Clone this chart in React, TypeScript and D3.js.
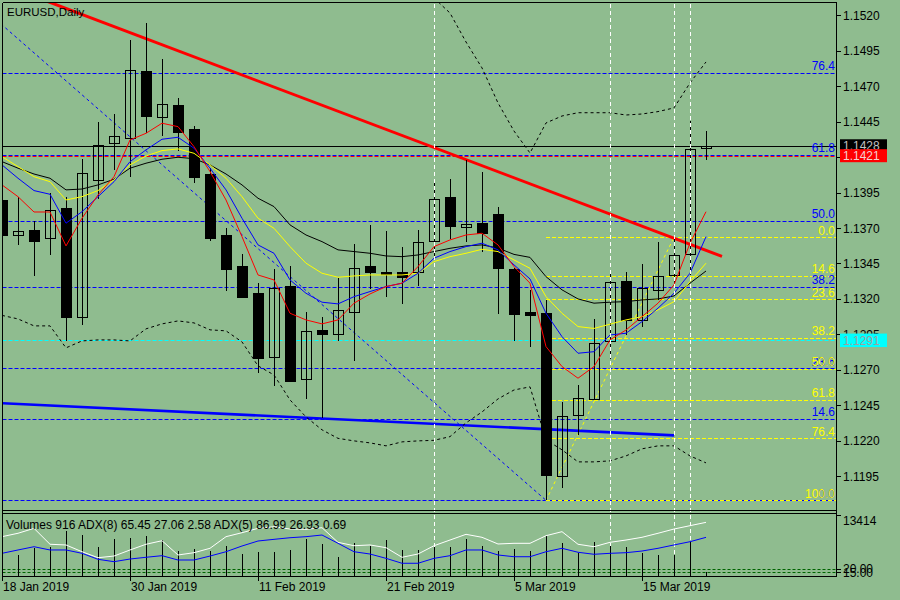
import React from "react";
import * as d3 from "d3";

// ---------- data ----------
const dates = [
  "2019-01-18", "2019-01-21", "2019-01-22", "2019-01-23", "2019-01-24", "2019-01-25", "2019-01-28", "2019-01-29",
  "2019-01-30", "2019-01-31", "2019-02-01", "2019-02-04", "2019-02-05", "2019-02-06", "2019-02-07", "2019-02-08",
  "2019-02-11", "2019-02-12", "2019-02-13", "2019-02-14", "2019-02-15", "2019-02-18", "2019-02-19", "2019-02-20",
  "2019-02-21", "2019-02-22", "2019-02-25", "2019-02-26", "2019-02-27", "2019-02-28", "2019-03-01", "2019-03-04",
  "2019-03-05", "2019-03-06", "2019-03-07", "2019-03-08", "2019-03-11", "2019-03-12", "2019-03-13", "2019-03-14",
  "2019-03-15", "2019-03-18", "2019-03-19", "2019-03-20", "2019-03-21",
];

const opens = [
  1.13898, 1.13649, 1.13687, 1.13628, 1.13842, 1.13071, 1.14037, 1.14298, 1.14333, 1.14807, 1.14481, 1.14568,
  1.14399, 1.14081, 1.13651, 1.13433, 1.13242, 1.12789, 1.13294, 1.12638, 1.12982, 1.12951, 1.13106, 1.13433,
  1.13388, 1.13390, 1.13388, 1.13607, 1.13917, 1.13706, 1.13734, 1.13799, 1.13412, 1.13108, 1.13104, 1.11950,
  1.12380, 1.12493, 1.12906, 1.13327, 1.13050, 1.13261, 1.13367, 1.13515, 1.14263,
];
const highs = [
  1.13926, 1.13917, 1.13752, 1.13945, 1.13921, 1.14185, 1.14446, 1.14504, 1.15026, 1.15148, 1.14892, 1.14617,
  1.14420, 1.14124, 1.13701, 1.13517, 1.13315, 1.13409, 1.13433, 1.13108, 1.13071, 1.13346, 1.13586, 1.13720,
  1.13679, 1.13567, 1.13687, 1.14039, 1.14046, 1.14180, 1.14095, 1.13847, 1.13419, 1.13264, 1.13193, 1.12476,
  1.12594, 1.13059, 1.13393, 1.13388, 1.13447, 1.13600, 1.13632, 1.14455, 1.14384,
];
const lows = [
  1.13630, 1.13579, 1.13364, 1.13510, 1.12906, 1.13017, 1.13903, 1.14110, 1.14062, 1.14370, 1.14351, 1.14246,
  1.14016, 1.13611, 1.13259, 1.13207, 1.12681, 1.12589, 1.12622, 1.12497, 1.12363, 1.12904, 1.12765, 1.13268,
  1.13216, 1.13165, 1.13292, 1.13475, 1.13623, 1.13600, 1.13534, 1.13096, 1.12904, 1.12864, 1.11783, 1.11866,
  1.12241, 1.12492, 1.12777, 1.12946, 1.13005, 1.13193, 1.13311, 1.13369, 1.14180,
];
const closes = [
  1.13653, 1.13677, 1.13611, 1.13825, 1.13075, 1.14086, 1.14284, 1.14349, 1.14812, 1.14492, 1.14573, 1.14380,
  1.14062, 1.13632, 1.13414, 1.13216, 1.12782, 1.13276, 1.12624, 1.12972, 1.12955, 1.13120, 1.13417, 1.13393,
  1.13376, 1.13357, 1.13600, 1.13903, 1.13717, 1.13727, 1.13668, 1.13417, 1.13096, 1.13089, 1.11961, 1.12375,
  1.12500, 1.12888, 1.13318, 1.13052, 1.13276, 1.13362, 1.13508, 1.14255, 1.14280,
];
const volumes = [
  4840, 4620, 6090, 6450, 9900, 9020, 6310, 8140, 8290, 8870, 7920, 5500, 5940, 5500, 6600, 4840,
  5350, 5350, 5720, 8140, 7040, 4250, 7190, 6670, 7920, 5720, 5720, 6450, 6450, 8140, 6600, 5500,
  5940, 5500, 8870, 7190, 5130, 7410, 6600, 6310, 5130, 4620, 4620, 7410, 916,
];

const maRed = [
  1.14004, 1.13921, 1.13813, 1.13813, 1.13574, 1.13769, 1.13933, 1.14062, 1.14321, 1.14368, 1.14439, 1.14415,
  1.14274, 1.14098, 1.13898, 1.13639, 1.13369, 1.13334, 1.13099, 1.13052, 1.13024, 1.13052, 1.13170, 1.13235,
  1.13287, 1.13311, 1.13428, 1.13569, 1.13616, 1.13651, 1.13663, 1.13581, 1.13428, 1.13311, 1.12864, 1.12723,
  1.12641, 1.12723, 1.12911, 1.12981, 1.13075, 1.13170, 1.13299, 1.13593, 1.13815,
];
const maBlue = [
  1.14145, 1.14051, 1.13964, 1.13938, 1.13734, 1.13815, 1.13921, 1.14027, 1.14168, 1.14251, 1.14326, 1.14340,
  1.14263, 1.14122, 1.13969, 1.13769, 1.13581, 1.13522, 1.13334, 1.13240, 1.13177, 1.13165, 1.13216, 1.13252,
  1.13287, 1.13311, 1.13381, 1.13487, 1.13534, 1.13569, 1.13593, 1.13546, 1.13440, 1.13341, 1.13099, 1.12934,
  1.12817, 1.12828, 1.12946, 1.12958, 1.13040, 1.13135, 1.13240, 1.13381, 1.13639,
];
const maYellow = [
  1.14203, 1.14133, 1.14062, 1.14027, 1.13898, 1.13921, 1.13964, 1.14039, 1.14145, 1.14208, 1.14246, 1.14258,
  1.14227, 1.14145, 1.14051, 1.13921, 1.13769, 1.13698, 1.13569, 1.13452, 1.13381, 1.13353, 1.13362, 1.13369,
  1.13369, 1.13369, 1.13381, 1.13463, 1.13498, 1.13522, 1.13550, 1.13534, 1.13475, 1.13416, 1.13216, 1.13099,
  1.13005, 1.12992, 1.13022, 1.13052, 1.13075, 1.13123, 1.13181, 1.13322, 1.13452,
];
const maBlack = [
  1.14168, 1.14122, 1.14081, 1.14051, 1.13969, 1.13975, 1.14004, 1.14044, 1.14122, 1.14157, 1.14185, 1.14199,
  1.14189, 1.14145, 1.14081, 1.14004, 1.13910, 1.13851, 1.13722, 1.13651, 1.13604, 1.13546, 1.13534, 1.13522,
  1.13503, 1.13498, 1.13510, 1.13534, 1.13557, 1.13574, 1.13581, 1.13559, 1.13514, 1.13493, 1.13357, 1.13264,
  1.13200, 1.13170, 1.13177, 1.13181, 1.13193, 1.13200, 1.13221, 1.13311, 1.13397,
];
const bandUpperStart = 26;
const bandUpper = [
  1.15449, 1.15322, 1.15216, 1.15012, 1.14829, 1.14582, 1.14384, 1.14229, 1.14441, 1.14490,
  1.14513, 1.14513, 1.14513, 1.14497, 1.14504, 1.14521, 1.14547, 1.14723, 1.14871,
];
const bandLower = [
  1.13084, 1.13059, 1.13010, 1.13010, 1.12855, 1.12904, 1.12911, 1.12911, 1.12904, 1.12989, 1.13024, 1.13045,
  1.13031, 1.12982, 1.12975, 1.12897, 1.12728, 1.12664, 1.12488, 1.12368, 1.12277, 1.12217, 1.12199, 1.12185,
  1.12164, 1.12192, 1.12199, 1.12203, 1.12229, 1.12326, 1.12403, 1.12495, 1.12558, 1.12580, 1.12206, 1.12136,
  1.12051, 1.12051, 1.12058, 1.12093, 1.12143, 1.12164, 1.12164, 1.12093, 1.12044,
];
const adx5 = [
  66.4, 71.3, 78.4, 55.5, 54.5, 44.8, 36.2, 38.6, 47.3, 55.5, 60.6, 40.1, 43.4, 49.7, 66.4, 72.1,
  78.4, 80.7, 77.4, 77.0, 79.3, 58.3, 53.4, 54.5, 50.6, 36.8, 41.5, 53.4, 61.6, 69.8, 65.5, 55.9,
  56.9, 56.9, 67.8, 73.6, 55.5, 52.0, 58.3, 61.6, 65.5, 71.3, 77.4, 82.2, 86.99,
];
const adx8 = [
  42.5, 47.3, 52.0, 47.3, 47.3, 42.5, 33.9, 30.5, 34.3, 36.8, 39.1, 32.9, 32.9, 38.6, 44.8, 53.0,
  60.2, 62.6, 64.9, 66.4, 68.8, 56.9, 44.8, 41.5, 35.3, 28.2, 28.2, 35.3, 39.1, 47.3, 47.3, 40.1,
  37.6, 37.6, 44.8, 49.7, 44.0, 41.1, 42.5, 43.4, 45.8, 49.7, 54.5, 59.2, 65.45,
];
const adxLevels = [20, 15];

const priceTicks = [
  1.1195, 1.122, 1.1245, 1.127, 1.1295, 1.132, 1.1345, 1.137, 1.1395, 1.142, 1.1445, 1.147, 1.1495, 1.152,
];
const timeTickIndex = [0, 8, 16, 24, 32, 40];
const timeTickLabels = ["18 Jan 2019", "30 Jan 2019", "11 Feb 2019", "21 Feb 2019", "5 Mar 2019", "15 Mar 2019"];
const volumeAxisMax = 13414;

const fibLevels = [0, 14.6, 23.6, 38.2, 50, 61.8, 76.4, 100];
// blue fibo: level 0 at low (bar 34), level 100 above the chart (bar -6)
const blueFibIdx = [-6, 34];
const blueFibPrice = [1.15724, 1.1178];
// yellow fibo: level 100 at low (bar 34), level 0 at bar 42
const yellowFibIdx = [34, 42];
const yellowFibPrice = [1.1178, 1.13635];

const redTrendIdx = [0, 45];
const redTrendPrice = [1.15419, 1.135];
const blueTrendIdx = [-1, 42];
const blueTrendPrice = [1.1247, 1.12238];

const vLineIdx = [27, 38, 42, 43];
const bidPrice = 1.1428;
const redLevel = 1.1421;
const cyanLevel = 1.1291;

// ---------- chart ----------
const W = 900;
const H = 600;
const BG = "#8FBC8F";
const FONT = "'Liberation Sans', Arial, sans-serif";

export default function App() {
  const L = 2.5;
  const R = 836.5;
  const T = 2.5;
  const MB = 510.5;
  const ST = 513.5;
  const SB = 576.5;

  const x = d3.scaleLinear().domain([0, 44]).range([2, 706]);
  const y = d3.scaleLinear().domain([1.1195, 1.152]).range([476.2, 15.3]);
  const yVol = d3.scaleLinear().domain([0, volumeAxisMax]).range([576, 515]);
  const yAdx = d3.scaleLinear().domain([0, 100]).range([582.9, 513.3]);

  const lineP = (arr: number[], start = 0) =>
    d3
      .line<number>()
      .x((_, i) => x(i + start))
      .y((d) => y(d))(arr) || "";
  const lineA = (arr: number[]) =>
    d3
      .line<number>()
      .x((_, i) => x(i))
      .y((d) => yAdx(d))(arr) || "";

  const fibPrice = (p0: number, p100: number, lv: number) => p0 + (lv / 100) * (p100 - p0);
  const blueP0 = blueFibPrice[1];
  const blueP100 = blueFibPrice[0];
  const yelP0 = yellowFibPrice[1];
  const yelP100 = yellowFibPrice[0];
  const inMain = (yy: number) => yy > 12 && yy < 510;

  const bodyW = 10;
  const hy = (p: number) => Math.round(y(p)) + 0.5;

  return (
    <div style={{ position: "fixed", left: 0, top: 0, width: W, height: H, background: BG }}>
      <svg width={W} height={H} style={{ display: "block" }} fontFamily={FONT}>
        <defs>
          <clipPath id="mainClip">
            <rect x={3} y={3} width={833} height={507} />
          </clipPath>
          <clipPath id="subClip">
            <rect x={3} y={514} width={833} height={62} />
          </clipPath>
        </defs>
        <rect x={0} y={0} width={W} height={H} fill={BG} />

        {/* ---------- main panel ---------- */}
        <g clipPath="url(#mainClip)">
          {/* blue fibo levels */}
          {fibLevels.map((lv) => {
            const yy = hy(fibPrice(blueP0, blueP100, lv));
            return (
              <line key={"bf" + lv} x1={L} x2={R} y1={yy} y2={yy}
                stroke="#0000FF" strokeWidth={1} strokeDasharray="4,2" />
            );
          })}
          {/* yellow fibo levels */}
          {fibLevels.map((lv) => {
            const yy = hy(fibPrice(yelP0, yelP100, lv));
            return (
              <line key={"yf" + lv} x1={x(yellowFibIdx[0])} x2={R} y1={yy} y2={yy}
                stroke="#FFFF00" strokeDasharray="4,2" />
            );
          })}
          {/* horizontal price lines */}
          <line x1={L} x2={R} y1={hy(bidPrice)} y2={hy(bidPrice)} stroke="#000" />
          <line x1={L} x2={R} y1={hy(redLevel)} y2={hy(redLevel)} stroke="#FF0000" strokeDasharray="4,2" />
          <line x1={L} x2={R} y1={hy(cyanLevel)} y2={hy(cyanLevel)} stroke="#00FFFF" strokeDasharray="4,2" />

          {/* fibo diagonals */}
          <line x1={x(blueFibIdx[0])} y1={y(blueFibPrice[0])} x2={x(blueFibIdx[1])} y2={y(blueFibPrice[1])}
            stroke="#0000FF" strokeDasharray="3,3" />
          <line x1={x(yellowFibIdx[0])} y1={y(yellowFibPrice[0])} x2={x(yellowFibIdx[1])} y2={y(yellowFibPrice[1])}
            stroke="#FFFF00" strokeDasharray="3,3" />

          {/* trend lines */}
          <line x1={x(redTrendIdx[0])} y1={y(redTrendPrice[0])} x2={x(redTrendIdx[1])} y2={y(redTrendPrice[1])}
            stroke="#FF0000" strokeWidth={3} />
          <line x1={x(blueTrendIdx[0])} y1={y(blueTrendPrice[0])} x2={x(blueTrendIdx[1])} y2={y(blueTrendPrice[1])}
            stroke="#0000FF" strokeWidth={2.6} />

          {/* candles */}
          {dates.map((d, i) => {
            const cx = Math.round(x(i)) + 0.5;
            const o = opens[i];
            const c = closes[i];
            const bull = c >= o;
            const top = hy(Math.max(o, c));
            const bot = hy(Math.min(o, c));
            return (
              <g key={d} shapeRendering="crispEdges">
                <line x1={cx} x2={cx} y1={y(highs[i])} y2={y(lows[i])} stroke="#000" />
                <rect x={cx - bodyW / 2} y={top} width={bodyW} height={Math.max(1, bot - top)}
                  fill={bull ? "none" : "#000"} stroke="#000" />
              </g>
            );
          })}

          {/* bands */}
          <path d={lineP(bandUpper, bandUpperStart)} fill="none" stroke="#000" strokeDasharray="3,3" />
          <path d={lineP(bandLower)} fill="none" stroke="#000" strokeDasharray="3,3" />
          {/* moving averages */}
          <path d={lineP(maBlack)} fill="none" stroke="#000" />
          <path d={lineP(maYellow)} fill="none" stroke="#FFFF00" />
          <path d={lineP(maBlue)} fill="none" stroke="#0000FF" />
          <path d={lineP(maRed)} fill="none" stroke="#FF0000" />

          {/* fibo labels */}
          {fibLevels
            .filter((lv) => inMain(y(fibPrice(blueP0, blueP100, lv))))
            .map((lv) => (
              <text key={"bl" + lv} x={835} y={y(fibPrice(blueP0, blueP100, lv)) - 2.5} textAnchor="end"
                fontSize={12} fill="#0000FF">{lv.toFixed(1)}</text>
            ))}
          {fibLevels
            .filter((lv) => inMain(y(fibPrice(yelP0, yelP100, lv))))
            .map((lv) => (
              <text key={"yl" + lv} x={835} y={y(fibPrice(yelP0, yelP100, lv)) - 2.5} textAnchor="end"
                fontSize={12} fill="#FFFF00">{lv.toFixed(1)}</text>
            ))}
        </g>

        {/* vertical white dashed lines */}
        {vLineIdx.map((i) => (
          <line key={"v" + i} x1={Math.round(x(i)) + 0.5} x2={Math.round(x(i)) + 0.5} y1={T + 1} y2={576}
            stroke="#FFFFFF" strokeDasharray="4,3" shapeRendering="crispEdges" />
        ))}

        <text x={7} y={16} fontSize={11.5} fill="#000">EURUSD,Daily</text>

        {/* ---------- sub panel ---------- */}
        <g clipPath="url(#subClip)">
          {adxLevels.map((lv) => (
            <line key={"al" + lv} x1={L} x2={R} y1={Math.round(yAdx(lv)) + 0.5} y2={Math.round(yAdx(lv)) + 0.5}
              stroke="#006400" strokeDasharray="3,2" />
          ))}
          {volumes.map((v, i) => (
            <line key={"vol" + i} x1={Math.round(x(i)) + 0.5} x2={Math.round(x(i)) + 0.5} y1={yVol(v)} y2={576}
              stroke="#000" shapeRendering="crispEdges" />
          ))}
          <path d={lineA(adx5)} fill="none" stroke="#FFFFFF" />
          <path d={lineA(adx8)} fill="none" stroke="#0000FF" />
        </g>
        <text x={6} y={529} fontSize={12} fill="#000">
          Volumes 916 ADX(8) 65.45 27.06 2.58 ADX(5) 86.99 26.93 0.69
        </text>

        {/* ---------- frames ---------- */}
        <g stroke="#000" shapeRendering="crispEdges" fill="none">
          <line x1={L} x2={R} y1={T} y2={T} />
          <line x1={L} x2={R} y1={MB} y2={MB} />
          <line x1={L} x2={R} y1={ST} y2={ST} />
          <line x1={L} x2={R} y1={SB} y2={SB} />
          <line x1={L} x2={L} y1={T} y2={SB} />
          <line x1={R} x2={R} y1={T} y2={SB} />
        </g>

        {/* price axis */}
        {priceTicks.map((p) => (
          <g key={"pt" + p}>
            <line x1={R} x2={841} y1={hy(p)} y2={hy(p)} stroke="#000" shapeRendering="crispEdges" />
            <text x={843} y={y(p) + 4.5} fontSize={12} fill="#000">{p.toFixed(4)}</text>
          </g>
        ))}
        {/* price boxes */}
        <rect x={840} y={y(bidPrice) - 6.5} width={47} height={13} fill="#000" />
        <text x={843} y={y(bidPrice) + 4.5} fontSize={12} fill="#C0C0C0">{bidPrice.toFixed(4)}</text>
        <rect x={840} y={y(redLevel) - 6.5} width={47} height={13} fill="#FF0000" />
        <text x={843} y={y(redLevel) + 4.5} fontSize={12} fill="#F4D0D0">{redLevel.toFixed(4)}</text>
        <rect x={840} y={y(cyanLevel) - 6.5} width={47} height={13.5} fill="#00FFFF" />
        <text x={843} y={y(cyanLevel) + 4.5} fontSize={12} fill="#A0A0A0">{cyanLevel.toFixed(4)}</text>

        {/* sub axis */}
        <line x1={R} x2={841} y1={515.5} y2={515.5} stroke="#000" shapeRendering="crispEdges" />
        <text x={843} y={525} fontSize={12} fill="#000">{volumeAxisMax}</text>
        {adxLevels.map((lv) => (
          <g key={"at" + lv}>
            <line x1={R} x2={841} y1={Math.round(yAdx(lv)) + 0.5} y2={Math.round(yAdx(lv)) + 0.5} stroke="#000"
              shapeRendering="crispEdges" />
            <text x={843} y={yAdx(lv) + 4.5} fontSize={12} fill="#000">{lv.toFixed(2)}</text>
          </g>
        ))}

        {/* time axis */}
        {timeTickIndex.map((i, k) => (
          <g key={"tt" + i}>
            <line x1={Math.round(x(i)) + 0.5} x2={Math.round(x(i)) + 0.5} y1={SB} y2={581} stroke="#000"
              shapeRendering="crispEdges" />
            <text x={x(i) + 1} y={591} fontSize={12} fill="#000">{timeTickLabels[k]}</text>
          </g>
        ))}
      </svg>
    </div>
  );
}
